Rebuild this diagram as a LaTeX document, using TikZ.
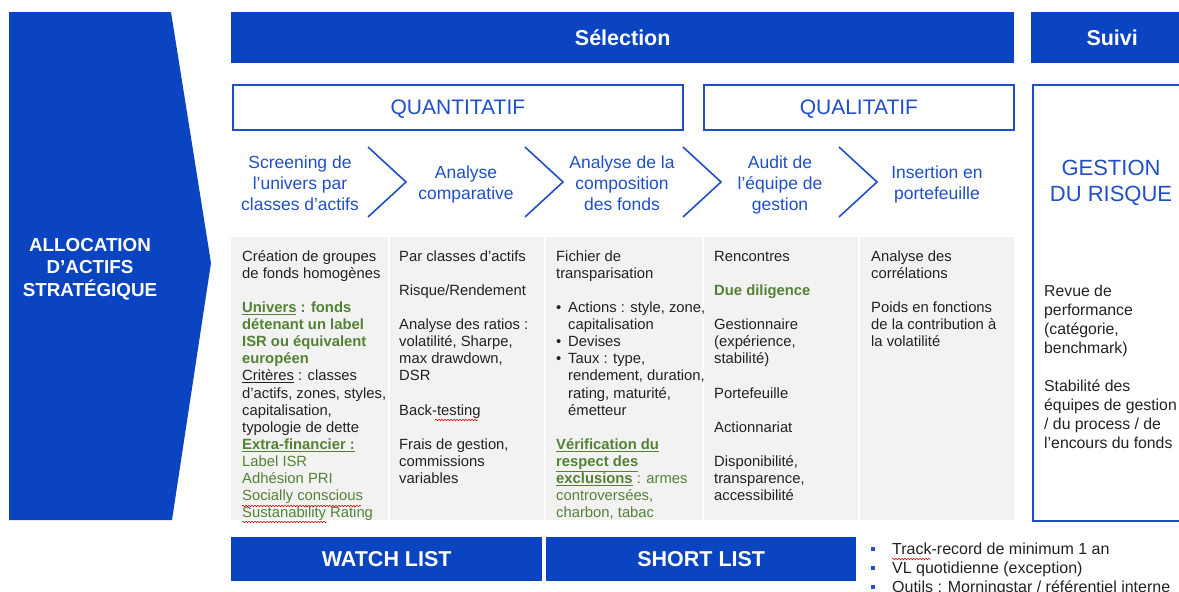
\documentclass[tikz,border=0pt]{standalone}
\usepackage{fontspec}
\setmainfont{Liberation Sans}
\usetikzlibrary{decorations.pathmorphing}
\definecolor{bfill}{HTML}{0A44C0}
\definecolor{btext}{HTML}{1F4FC8}
\definecolor{gfill}{HTML}{F2F2F2}
\definecolor{gtext}{HTML}{548235}
\definecolor{ink}{HTML}{222222}
\newcommand\fl{\rule{0pt}{12pt}}
\newcommand\gr[1]{{\color{gtext}#1}}
\begin{document}
\begin{tikzpicture}[x=1pt,y=-1pt,
  bluebar/.style={fill=bfill,draw=none,text=white,inner sep=0pt,anchor=north west,
    font=\fontsize{21.5}{24}\selectfont\bfseries},
  outbox/.style={draw=btext,line width=1.8pt,fill=white,text=btext,inner sep=0pt,anchor=north west,
    text depth=0pt,font=\fontsize{21}{24}\selectfont},
  steptxt/.style={text=btext,align=center,inner sep=0pt,font=\fontsize{17.5}{21}\selectfont},
  colbox/.style={fill=gfill,draw=none,inner sep=0pt,anchor=north west,minimum height=283pt},
  coltxt/.style={anchor=north west,inner sep=0pt,align=left,text=ink,font=\fontsize{14.8}{17.1}\selectfont},
  chev/.style={draw=btext,line width=1.6pt},
  squig/.style={draw=red!85!black,line width=0.5pt,decorate,decoration={snake,amplitude=0.8pt,segment length=3pt}}]
\useasboundingbox (0,0) rectangle (1179,592);
\begin{scope}
\clip (0,0) rectangle (1179,592);
% allocation arrow
\fill[bfill] (9,12) -- (171,12) -- (211,263) -- (172,520) -- (9,520) -- cycle;
\node[text=white,align=center,inner sep=0pt,font=\fontsize{18.8}{22.5}\selectfont\bfseries] (alloc) at (90,269) {ALLOCATION\\D’ACTIFS\\STRATÉGIQUE};
% top bars
\node[bluebar,minimum width=783pt,minimum height=51pt] (sel) at (231,12) {Sélection};
\node[bluebar,minimum width=162pt,minimum height=51pt] (suivi) at (1031,12) {Suivi};
% quanti / quali
\node[outbox,minimum width=450pt,minimum height=45pt] (quanti) at (232,84) {QUANTITATIF};
\node[outbox,minimum width=310pt,minimum height=45pt] (quali) at (703,84) {QUALITATIF};
% risk box
\node[draw=btext,line width=1.8pt,inner sep=0pt,anchor=north west,minimum width=170pt,minimum height=436pt] (risk) at (1032,84) {};
\node[text=btext,align=center,inner sep=0pt,font=\fontsize{22}{26}\selectfont] (risktitle) at (1111,183) {GESTION\\DU RISQUE};
\node[anchor=north west,inner sep=0pt,align=left,text=ink,font=\fontsize{15.8}{19}\selectfont] (risktxt) at (1044,284)
 {\fl Revue de\\performance\\(catégorie,\\benchmark)\\[19pt]Stabilité des\\équipes de gestion\\/ du process / de\\l’encours du fonds};
% steps
\node[steptxt] (s1) at (300,183) {Screening de\\l’univers par\\classes d’actifs};
\node[steptxt] (s2) at (466,184.5) {Analyse\\comparative};
\node[steptxt] (s3) at (622,183) {Analyse de la\\composition\\des fonds};
\node[steptxt] (s4) at (780,185) {Audit de\\l’équipe de\\gestion};
\node[steptxt] (s5) at (937,184.5) {Insertion en\\portefeuille};
\foreach \x in {368,525,683,839}{\draw[chev,line join=miter] (\x,147) -- (\x+38,182) -- (\x,217);}
% grey columns
\node[colbox,minimum width=157pt] (c1) at (231,237) {};
\node[colbox,minimum width=154pt] (c2) at (390,237) {};
\node[colbox,minimum width=156pt] (c3) at (546,237) {};
\node[colbox,minimum width=154pt] (c4) at (704,237) {};
\node[colbox,minimum width=154pt] (c5) at (860,237) {};
\node[coltxt] (t1) at (242,249) {\fl Création de groupes\\de fonds homogènes\\[17.1pt]
 \gr{\bfseries\underline{Univers} : fonds}\\\gr{\bfseries détenant un label}\\\gr{\bfseries ISR ou équivalent}\\\gr{\bfseries européen}\\
 \underline{Critères} : classes\\d’actifs, zones, styles,\\capitalisation,\\typologie de dette\\
 \gr{\bfseries\underline{Extra-financier :}}\\\gr{Label ISR}\\\gr{Adhésion PRI}\\\gr{Socially conscious}\\\gr{Sustanability Rating}};
\node[coltxt] (t2) at (399,249) {\fl Par classes d’actifs\\[17.1pt]Risque/Rendement\\[17.1pt]
 Analyse des ratios :\\volatilité, Sharpe,\\max drawdown,\\DSR\\[17.1pt]Back-testing\\[17.1pt]
 Frais de gestion,\\commissions\\variables};
\node[coltxt] (t3) at (556,249) {\fl Fichier de\\transparisation\\[17.1pt]
 \makebox[12pt][l]{•}Actions : style, zone,\\\hspace*{12pt}capitalisation\\
 \makebox[12pt][l]{•}Devises\\\makebox[12pt][l]{•}Taux : type,\\\hspace*{12pt}rendement, duration,\\
 \hspace*{12pt}rating, maturité,\\\hspace*{12pt}émetteur\\[17.1pt]
 \gr{\bfseries\underline{Vérification du}}\\\gr{\bfseries\underline{respect des}}\\
 \gr{\textbf{\underline{exclusions}} : armes}\\\gr{controversées,}\\\gr{charbon, tabac}};
\node[coltxt] (t4) at (714,249) {\fl Rencontres\\[17.1pt]\gr{\bfseries Due diligence}\\[17.1pt]
 Gestionnaire\\(expérience,\\stabilité)\\[17.1pt]Portefeuille\\[17.1pt]Actionnariat\\[17.1pt]
 Disponibilité,\\transparence,\\accessibilité};
\node[coltxt] (t5) at (871,249) {\fl Analyse des\\corrélations\\[17.1pt]Poids en fonctions\\de la contribution à\\la volatilité};
% bottom bars
\node[bluebar,minimum width=311pt,minimum height=44pt,text depth=0pt] (watch) at (231,537) {WATCH LIST};
\node[bluebar,minimum width=310pt,minimum height=44pt,text depth=0pt] (short) at (546,537) {SHORT LIST};
\node[anchor=north west,inner sep=0pt,align=left,text=ink,font=\fontsize{16}{19}\selectfont] (bul) at (871,542)
 {\rule{0pt}{12.5pt}\makebox[21pt][l]{\textcolor{btext}{\rule[3.5pt]{4pt}{4.5pt}}}Track-record de minimum 1 an\\
  \makebox[21pt][l]{\textcolor{btext}{\rule[3.5pt]{4pt}{4.5pt}}}VL quotidienne (exception)\\
  \makebox[21pt][l]{\textcolor{btext}{\rule[3.5pt]{4pt}{4.5pt}}}Outils : Morningstar / référentiel interne};
% spell-check squiggles
\draw[squig] (242,506) -- (361,506);
\draw[squig] (242,522) -- (327,522);
\draw[squig] (435,420) -- (478,420);
\draw[squig] (892,559) -- (931,559);
\end{scope}
\end{tikzpicture}
\end{document}
